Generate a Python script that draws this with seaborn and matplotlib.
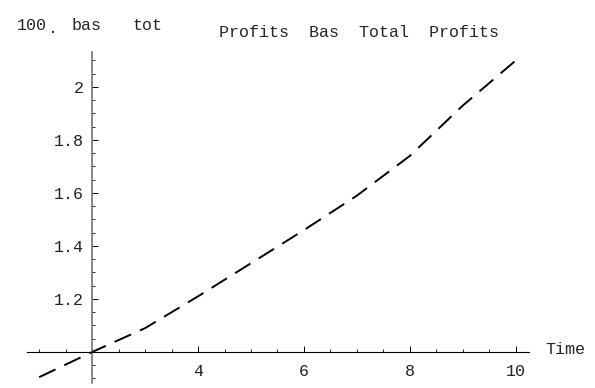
import numpy as np
import pandas as pd
import seaborn as sns
import matplotlib
matplotlib.use('Agg')
import matplotlib.pyplot as plt
from matplotlib.ticker import FixedLocator, MultipleLocator, FixedFormatter

# data
time = [1, 2, 3, 4, 5, 6, 7, 8, 9, 10]
profits = [0.905, 1.0, 1.09, 1.21, 1.335, 1.46, 1.59, 1.74, 1.93, 2.10]

x_ticks = [4, 6, 8, 10]
x_labels = ['4', '6', '8', '10']
y_ticks = [1.2, 1.4, 1.6, 1.8, 2.0]
y_labels = ['1.2', '1.4', '1.6', '1.8', '2']

W, H = 595, 388
sns.set_style('white')
plt.rcParams['font.family'] = ['Liberation Mono', 'DejaVu Sans Mono']
plt.rcParams['lines.scale_dashes'] = False

fig = plt.figure(figsize=(W / 100, H / 100), dpi=100)
# axes box in pixels: left 27, right 529, top 52, bottom 383
ax = fig.add_axes([27 / W, (H - 383) / H, (529 - 27) / W, (383 - 52) / H])
ax.set_facecolor('white')

df = pd.DataFrame({'Time': time, 'Profits': profits})
sns.lineplot(data=df, x='Time', y='Profits', ax=ax, color='black',
             lw=1.4, linestyle=(0, (13, 7)))

ax.set_xlim(0.77, 10.25)
ax.set_ylim(0.883, 2.132)

for s in ['top', 'right']:
    ax.spines[s].set_visible(False)
ax.spines['left'].set_position(('data', 2))
ax.spines['bottom'].set_position(('data', 1.0))
ax.spines['left'].set_color('#666666')
ax.spines['left'].set_linewidth(1.1)
ax.spines['bottom'].set_color('black')
ax.spines['bottom'].set_linewidth(0.8)

ax.xaxis.set_major_locator(FixedLocator(x_ticks))
ax.xaxis.set_major_formatter(FixedFormatter(x_labels))
ax.xaxis.set_minor_locator(MultipleLocator(0.5))
ax.yaxis.set_major_locator(FixedLocator(y_ticks))
ax.yaxis.set_major_formatter(FixedFormatter(y_labels))
ax.yaxis.set_minor_locator(MultipleLocator(0.05))

ax.tick_params(axis='both', which='both', direction='in', color='black',
               bottom=True, left=True, labelsize=12, labelcolor='#222222')
ax.tick_params(axis='x', which='major', length=4, width=0.7, pad=9)
ax.tick_params(axis='x', which='minor', length=2.2, width=0.6)
ax.tick_params(axis='y', which='major', length=4, width=0.7, pad=6)
ax.tick_params(axis='y', which='minor', length=2.2, width=0.6)
ax.set_xlabel('')
ax.set_ylabel('')

def px(x, y):
    return x / W, 1 - y / H

fs = 12
fig.text(*px(545, 350), 'Time', fontsize=fs, va='center', ha='left')
fig.text(*px(17, 30), '100', fontsize=fs, va='baseline', ha='left')
fig.text(*px(48, 33), '.', fontsize=fs, va='baseline', ha='left')
fig.text(*px(72, 30), 'bas', fontsize=fs, va='baseline', ha='left')
fig.text(*px(132, 30), 'tot', fontsize=fs, va='baseline', ha='left')
fig.text(*px(219, 37), 'Profits  Bas  Total  Profits', fontsize=fs,
         va='baseline', ha='left')

fig.savefig('out.png', dpi=100, facecolor='white')
